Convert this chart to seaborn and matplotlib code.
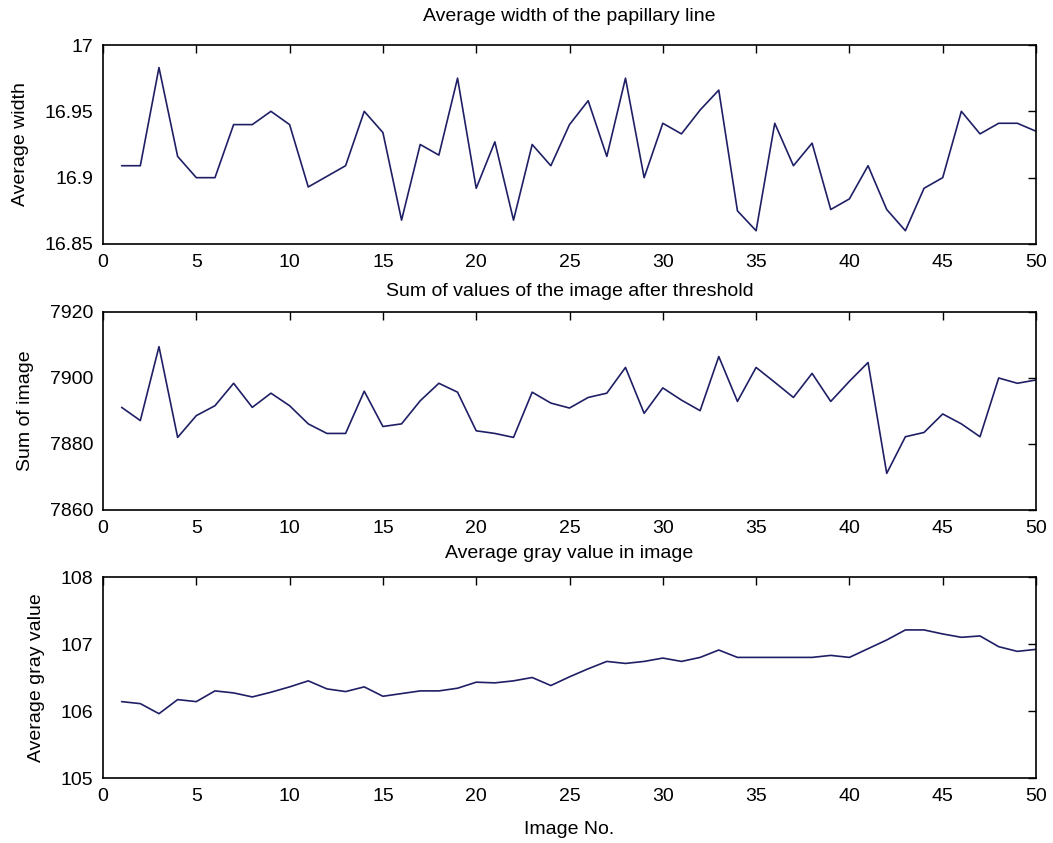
import matplotlib
matplotlib.use("Agg")
import matplotlib.pyplot as plt
import seaborn as sns
import pandas as pd

image_no = list(range(1, 51))

avg_width = [16.909, 16.909, 16.983, 16.916, 16.900, 16.900, 16.940, 16.940, 16.950, 16.940,
             16.893, 16.901, 16.909, 16.950, 16.934, 16.868, 16.925, 16.917, 16.975, 16.892,
             16.927, 16.868, 16.925, 16.909, 16.940, 16.958, 16.916, 16.975, 16.900, 16.941,
             16.933, 16.951, 16.966, 16.875, 16.860, 16.941, 16.909, 16.926, 16.876, 16.884,
             16.909, 16.876, 16.860, 16.892, 16.900, 16.950, 16.933, 16.941, 16.941, 16.935]

sum_image = [7891.1, 7887.1, 7909.5, 7882.0, 7888.6, 7891.6, 7898.4, 7891.1, 7895.4, 7891.6,
             7886.1, 7883.2, 7883.2, 7896.0, 7885.3, 7886.1, 7893.1, 7898.4, 7895.7, 7884.0,
             7883.2, 7882.0, 7895.7, 7892.4, 7890.9, 7894.1, 7895.4, 7903.2, 7889.3, 7897.0,
             7893.3, 7890.1, 7906.5, 7892.9, 7903.2, 7898.7, 7894.1, 7901.4, 7892.9, 7899.0,
             7904.7, 7871.1, 7882.2, 7883.5, 7889.1, 7886.1, 7882.2, 7900.0, 7898.4, 7899.4]

avg_gray = [106.14, 106.11, 105.96, 106.17, 106.14, 106.30, 106.27, 106.21, 106.28, 106.36,
            106.45, 106.33, 106.29, 106.36, 106.22, 106.26, 106.30, 106.30, 106.34, 106.43,
            106.42, 106.45, 106.50, 106.38, 106.51, 106.63, 106.74, 106.71, 106.74, 106.79,
            106.74, 106.80, 106.91, 106.80, 106.80, 106.80, 106.80, 106.80, 106.83, 106.80,
            106.93, 107.06, 107.21, 107.21, 107.15, 107.10, 107.12, 106.96, 106.89, 106.92]

titles = ["Average width of the papillary line",
          "Sum of values of the image after threshold",
          "Average gray value in image"]
ylabels = ["Average width", "Sum of image", "Average gray value"]
xlabel = "Image No."
x_ticks = list(range(0, 51, 5))
y_ticks = [[16.85, 16.9, 16.95, 17], [7860, 7880, 7900, 7920], [105, 106, 107, 108]]
y_ticklabels = [["16.85", "16.9", "16.95", "17"], ["7860", "7880", "7900", "7920"],
                ["105", "106", "107", "108"]]

sns.set_style("white")
plt.rcParams["font.family"] = ["Liberation Sans", "DejaVu Sans"]
plt.rcParams["font.size"] = 14
plt.rcParams["text.color"] = "black"
plt.rcParams["axes.labelcolor"] = "black"

fig = plt.figure(figsize=(10.53, 8.43), dpi=100)
W, H = 1053, 843
boxes = [(45, 244), (312, 510), (577, 778)]
title_pads = [17.5, 11.5, 13.5]
left_px, right_px = 103, 1036
line_color = "#1f1f66"

series = [avg_width, sum_image, avg_gray]
for i, (top, bot) in enumerate(boxes):
    ax = fig.add_axes([left_px / W, 1 - bot / H, (right_px - left_px) / W, (bot - top) / H])
    df = pd.DataFrame({"x": image_no, "y": series[i]})
    sns.lineplot(data=df, x="x", y="y", ax=ax, color=line_color, linewidth=1.2)
    ax.set_xlim(0, 50)
    ax.set_ylim(y_ticks[i][0], y_ticks[i][-1])
    ax.set_xticks(x_ticks)
    ax.set_xticklabels([str(t) for t in x_ticks])
    ax.set_yticks(y_ticks[i])
    ax.set_yticklabels(y_ticklabels[i])
    ax.tick_params(direction="in", length=6, width=1, top=True, right=True,
                   labelsize=14, colors="black", pad=7)
    for s in ax.spines.values():
        s.set_visible(True)
        s.set_color("black")
        s.set_linewidth(1.2)
    ax.set_title(titles[i], fontsize=14, pad=title_pads[i], color="black")
    ax.set_ylabel(ylabels[i], fontsize=14, labelpad=11, color="black")
    if i == 2:
        ax.set_xlabel(xlabel, fontsize=14, labelpad=12, color="black")
    else:
        ax.set_xlabel("")

fig.savefig("out.png", dpi=100, facecolor="white")
